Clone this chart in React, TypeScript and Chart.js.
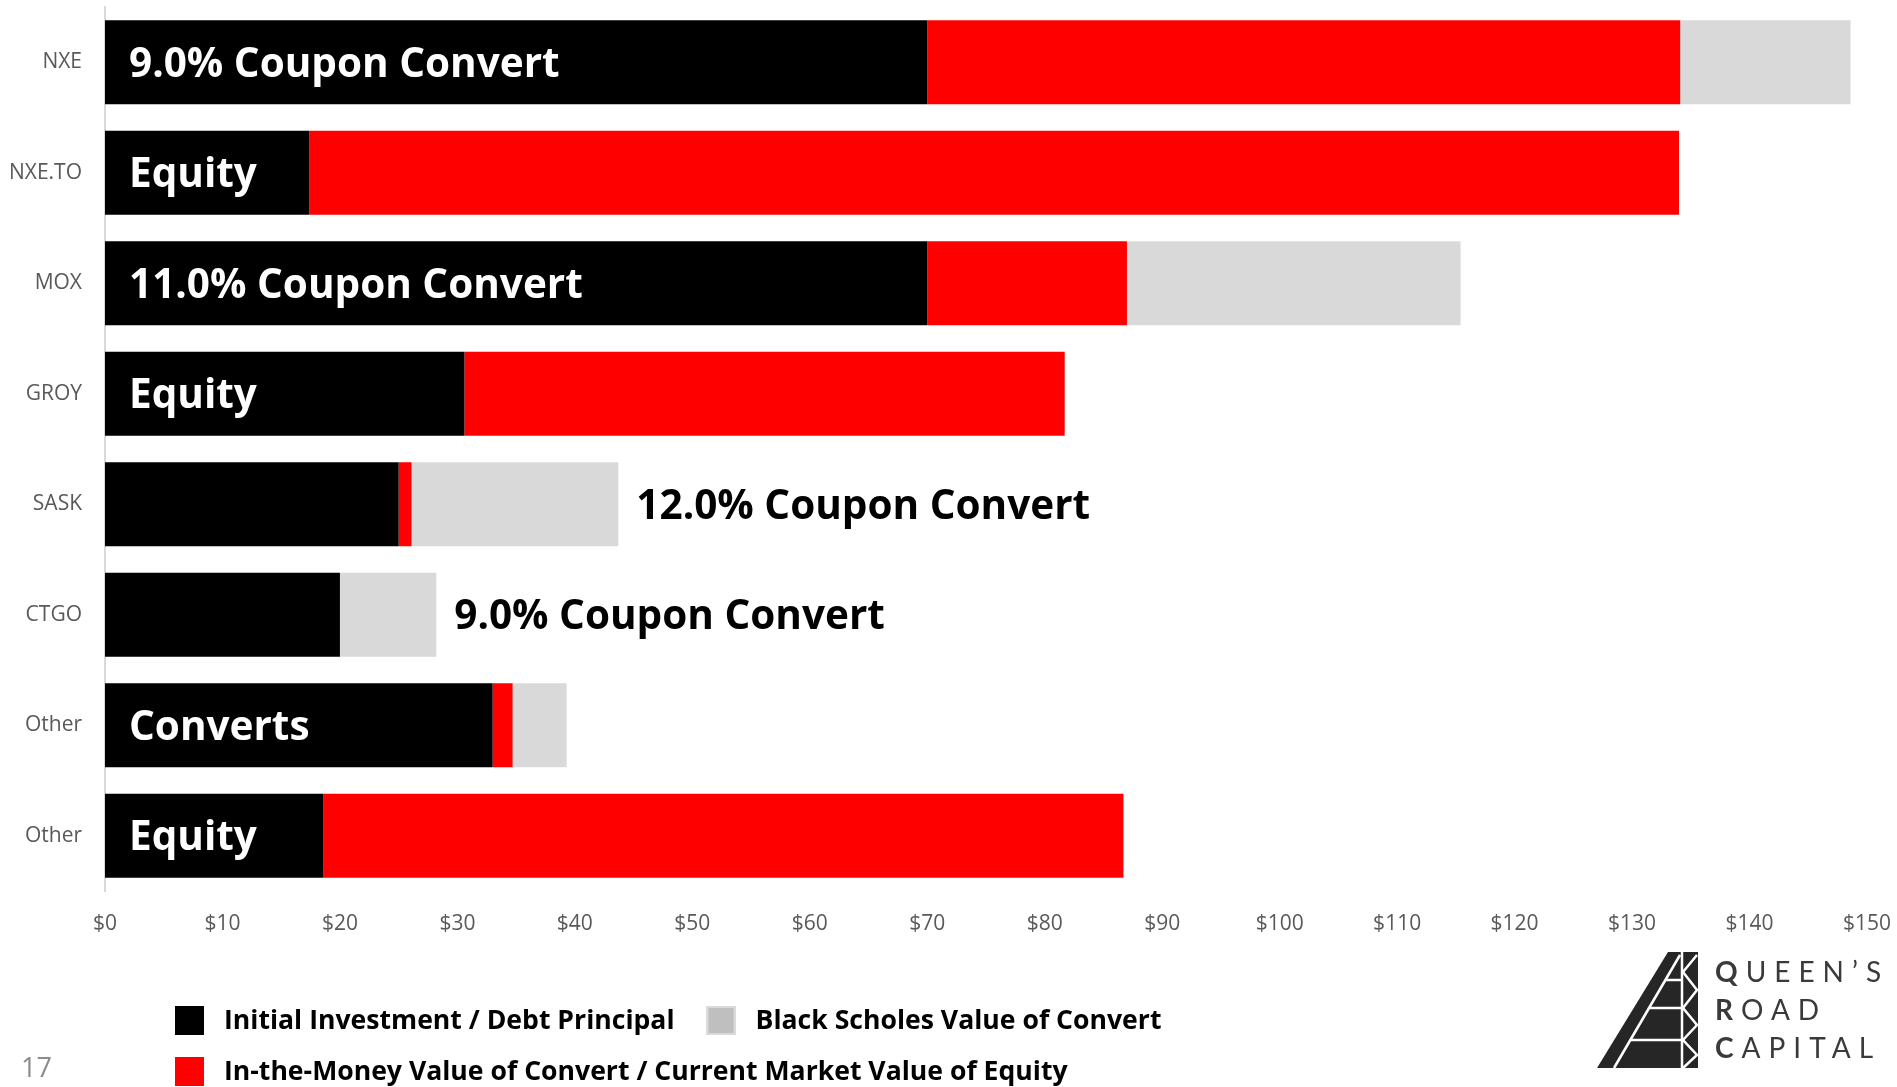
import React, { useEffect, useRef } from 'react';
import { Chart, registerables } from 'chart.js';

Chart.register(...registerables);

// ---- data ----
const CATEGORIES = ['NXE', 'NXE.TO', 'MOX', 'GROY', 'SASK', 'CTGO', 'Other', 'Other'];
const INITIAL_INVESTMENT = [70, 17.4, 70, 30.6, 25, 20, 33, 18.6];
const IN_THE_MONEY = [64.1, 116.6, 17, 51.1, 1.1, 0, 1.7, 68.1];
const BLACK_SCHOLES = [14.5, 0, 28.4, 0, 17.6, 8.2, 4.6, 0];
const BAR_TEXT = [
  '9.0% Coupon Convert',
  'Equity',
  '11.0% Coupon Convert',
  'Equity',
  '12.0% Coupon Convert',
  '9.0% Coupon Convert',
  'Converts',
  'Equity',
];
const BAR_TEXT_INSIDE = [true, true, true, true, false, false, true, true];
const X_MIN = 0;
const X_MAX = 150;
const X_STEP = 10;
const SERIES_NAMES = [
  'Initial Investment / Debt Principal',
  'In-the-Money Value of Convert / Current Market Value of Equity',
  'Black Scholes Value of Convert',
];
const PAGE_NUMBER = '17';

const FONT = '"Open Sans", "Noto Sans", sans-serif';
const COLORS = ['#000000', '#FF0000', '#D9D9D9'];

const barTextPlugin = {
  id: 'barText',
  afterDatasetsDraw(chart: any) {
    const { ctx, scales } = chart;
    const x = scales.x;
    const y = scales.y;
    const size = 40.5;
    ctx.save();
    ctx.font = `bold ${size}px ${FONT}`;
    ctx.textBaseline = 'alphabetic';
    ctx.textAlign = 'left';
    BAR_TEXT.forEach((t, i) => {
      const yc = y.getPixelForValue(i) + size * 0.357;
      if (BAR_TEXT_INSIDE[i]) {
        ctx.fillStyle = '#FFFFFF';
        ctx.fillText(t, chart.chartArea.left + 24, yc);
      } else {
        const total = INITIAL_INVESTMENT[i] + IN_THE_MONEY[i] + BLACK_SCHOLES[i];
        ctx.fillStyle = '#000000';
        ctx.fillText(t, x.getPixelForValue(total) + 18, yc);
      }
    });
    ctx.restore();
  },
};

const legendPlugin = {
  id: 'customLegend',
  afterDraw(chart: any) {
    const { ctx } = chart;
    const ds = chart.data.datasets;
    const swatch = [
      { fill: '#000000', stroke: null },
      { fill: '#FF0000', stroke: null },
      { fill: '#BFBFBF', stroke: '#D9D9D9' },
    ];
    const rows = [[0, 2], [1]];
    const rowY = [1020, 1071];
    const startX = 175;
    ctx.save();
    ctx.font = `bold 26.6px ${FONT}`;
    ctx.textBaseline = 'middle';
    ctx.textAlign = 'left';
    rows.forEach((row, r) => {
      let xx = startX;
      row.forEach((di) => {
        const sw = swatch[di];
        ctx.fillStyle = sw.fill;
        ctx.fillRect(xx, rowY[r] - 14, 29, 29);
        if (sw.stroke) {
          ctx.strokeStyle = sw.stroke;
          ctx.lineWidth = 2;
          ctx.strokeRect(xx + 1, rowY[r] - 13, 27, 27);
        }
        ctx.fillStyle = '#000000';
        const label = ds[di].label;
        ctx.fillText(label, xx + 49, rowY[r] + 1);
        xx += 49 + ctx.measureText(label).width + 32;
      });
    });
    // page number
    ctx.font = `27px ${FONT}`;
    ctx.fillStyle = '#8C8C8C';
    ctx.textBaseline = 'alphabetic';
    ctx.fillText(PAGE_NUMBER, 21, 1077);
    ctx.restore();
  },
};

function Logo() {
  const diagX = (yy: number) => 1614 + ((1068 - yy) * 66) / 113;
  return (
    <svg
      width={1897}
      height={1087}
      style={{ position: 'absolute', left: 0, top: 0, pointerEvents: 'none' }}
    >
      <polygon points="1597,1068 1668,952 1698,952 1698,1068" fill="#262626" />
      <g stroke="#FFFFFF" strokeWidth={2.5} fill="none">
        <line x1={1614} y1={1068} x2={1680} y2={955} />
        <line x1={1682} y1={952} x2={1682} y2={1068} />
        <line x1={diagX(980)} y1={980} x2={1682} y2={980} />
        <line x1={diagX(1008)} y1={1008} x2={1682} y2={1008} />
        <line x1={diagX(1040)} y1={1040} x2={1682} y2={1040} />
        <polyline points="1697,955 1683,972 1697,990 1683,1008 1697,1025 1683,1040 1697,1055 1683,1068" />
      </g>
      <g fill="#3A3A3A" style={{ fontFamily: 'Lato, "Open Sans", sans-serif', fontSize: 28 }} letterSpacing={8}>
        <text x={1715} y={982}>
          <tspan fontWeight={700}>Q</tspan>UEEN’S
        </text>
        <text x={1715} y={1020}>
          <tspan fontWeight={700}>R</tspan>OAD
        </text>
        <text x={1715} y={1058}>
          <tspan fontWeight={700}>C</tspan>APITAL
        </text>
      </g>
    </svg>
  );
}

export default function App() {
  const ref = useRef<HTMLCanvasElement | null>(null);
  useEffect(() => {
    if (!ref.current) return;
    const chart = new Chart(ref.current, {
      type: 'bar',
      data: {
        labels: CATEGORIES,
        datasets: [
          { label: SERIES_NAMES[0], data: INITIAL_INVESTMENT, backgroundColor: COLORS[0] },
          { label: SERIES_NAMES[1], data: IN_THE_MONEY, backgroundColor: COLORS[1] },
          { label: SERIES_NAMES[2], data: BLACK_SCHOLES, backgroundColor: COLORS[2] },
        ],
      },
      options: {
        animation: false,
        responsive: true,
        maintainAspectRatio: false,
        indexAxis: 'y',
        datasets: { bar: { barPercentage: 0.76, categoryPercentage: 1 } },
        layout: { padding: { left: 0, right: 30, top: 7, bottom: 0 } },
        plugins: { legend: { display: false }, tooltip: { enabled: false } },
        scales: {
          x: {
            stacked: true,
            min: X_MIN,
            max: X_MAX,
            ticks: {
              stepSize: X_STEP,
              autoSkip: false,
              maxRotation: 0,
              padding: 20,
              color: '#595959',
              font: { family: FONT, size: 21 },
              callback: (v: any) => '$' + v,
            },
            grid: { display: false, drawTicks: false },
            border: { display: false },
            afterFit: (s: any) => {
              s.height = 196;
              s.paddingLeft = 0;
              s.paddingRight = 0;
            },
          },
          y: {
            stacked: true,
            ticks: {
              padding: 23,
              color: '#595959',
              font: { family: FONT, size: 21 },
            },
            grid: { display: false, drawTicks: false },
            border: { display: true, color: '#D9D9D9', width: 2 },
            afterFit: (s: any) => {
              s.width = 105;
              s.paddingTop = 0;
              s.paddingBottom = 0;
            },
          },
        },
      } as any,
      plugins: [barTextPlugin, legendPlugin],
    });
    return () => chart.destroy();
  }, []);

  return (
    <div style={{ position: 'fixed', left: 0, top: 0, width: 1897, height: 1087, background: '#FFFFFF' }}>
      <canvas ref={ref} />
      <Logo />
    </div>
  );
}
